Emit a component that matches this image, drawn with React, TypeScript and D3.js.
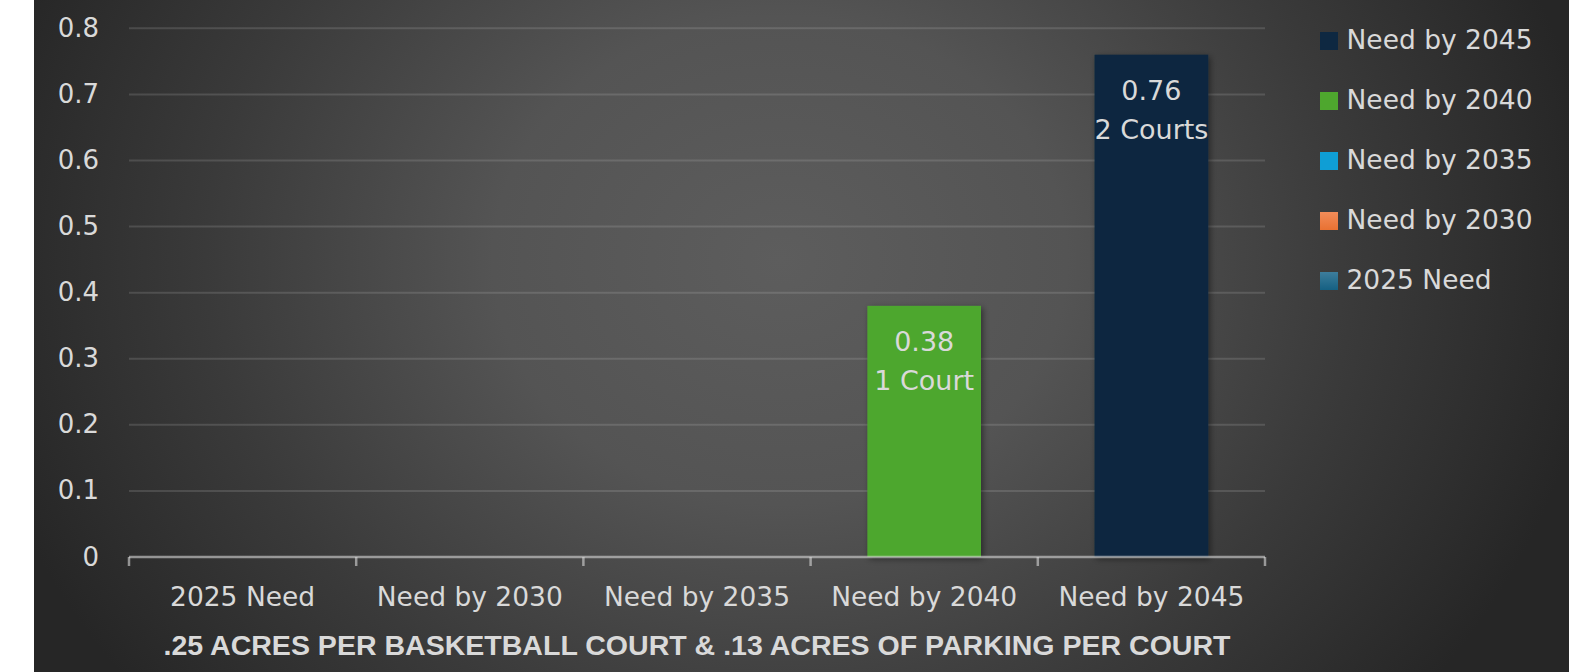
import React from "react";
import * as d3 from "d3";

const categories = ["2025 Need", "Need by 2030", "Need by 2035", "Need by 2040", "Need by 2045"];
const values = [0, 0, 0, 0.38, 0.76];
const valueLabels = ["", "", "", "0.38", "0.76"];
const courtLabels = ["", "", "", "1 Court", "2 Courts"];
const seriesColors = ["#156082", "#e97132", "#0f9ed5", "#4ea72e", "#0e2841"];
const seriesColorsLight = ["#3d7d9c", "#f28c59", "#0f9ed5", "#4ea72e", "#0e2841"];
const legendOrder = [4, 3, 2, 1, 0];
const yTicks = [0, 0.1, 0.2, 0.3, 0.4, 0.5, 0.6, 0.7, 0.8];
const title = ".25 ACRES PER BASKETBALL COURT & .13 ACRES OF PARKING PER COURT";

const W = 1579;
const H = 672;
const FONT = "'DejaVu Sans', sans-serif";
const TXT = "#d9d9d9";

export default function App() {
  const plotL = 129;
  const plotR = 1265;
  const y = d3.scaleLinear().domain([0, 0.8]).range([557, 28.3]);
  const x = d3.scaleBand().domain(categories).range([plotL, plotR]).paddingInner(0).paddingOuter(0);
  const bw = x.bandwidth() * 0.5;

  return (
    <svg width={W} height={H} style={{ position: "absolute", left: 0, top: 0 }}>
      <defs>
        <radialGradient id="bg" gradientUnits="userSpaceOnUse" cx={780} cy={260} r={820}
          gradientTransform="translate(780 260) scale(1 0.85) translate(-780 -260)">
          <stop offset="0" stopColor="#5d5d5d" />
          <stop offset="0.35" stopColor="#545454" />
          <stop offset="0.7" stopColor="#3a3a3a" />
          <stop offset="1" stopColor="#262626" />
        </radialGradient>
        {seriesColors.map((c, i) => (
          <linearGradient key={i} id={`sw${i}`} x1="0" y1="0" x2="0" y2="1">
            <stop offset="0" stopColor={seriesColorsLight[i]} />
            <stop offset="1" stopColor={c} />
          </linearGradient>
        ))}
        <filter id="shadow" x="-20%" y="-20%" width="140%" height="140%">
          <feDropShadow dx="2" dy="2" stdDeviation="3" floodColor="#000" floodOpacity="0.45" />
        </filter>
      </defs>
      <rect x={0} y={0} width={W} height={H} fill="#ffffff" />
      <rect x={34} y={0} width={1569 - 34} height={H} fill="url(#bg)" />

      {yTicks.filter((t) => t > 0).map((t) => (
        <line key={t} x1={plotL} x2={plotR} y1={y(t)} y2={y(t)} stroke="rgba(217,217,217,0.16)" strokeWidth={2} />
      ))}
      {yTicks.map((t) => (
        <text key={t} x={99} y={y(t) + 8.5} textAnchor="end" fontFamily={FONT} fontSize={26} fill={TXT}>
          {String(t)}
        </text>
      ))}

      {categories.map((c, i) => {
        const v = values[i];
        if (v <= 0) return null;
        const bx = (x(c) as number) + (x.bandwidth() - bw) / 2;
        const top = y(v);
        const cx = (x(c) as number) + x.bandwidth() / 2;
        return (
          <g key={c}>
            <rect x={bx} y={top} width={bw} height={y(0) - top} fill={seriesColors[i]} filter="url(#shadow)" />
            <text x={cx} y={top + 45.5} textAnchor="middle" fontFamily={FONT} fontSize={27} fill={TXT}>
              {valueLabels[i]}
            </text>
            <text x={cx} y={top + 84} textAnchor="middle" fontFamily={FONT} fontSize={27} fill={TXT}>
              {courtLabels[i]}
            </text>
          </g>
        );
      })}

      <line x1={plotL} x2={plotR} y1={y(0)} y2={y(0)} stroke="rgba(217,217,217,0.6)" strokeWidth={2.5} />
      {d3.range(categories.length + 1).map((i) => {
        const tx = plotL + i * x.bandwidth();
        return <line key={i} x1={tx} x2={tx} y1={y(0)} y2={y(0) + 9} stroke="rgba(217,217,217,0.6)" strokeWidth={2.5} />;
      })}
      {categories.map((c) => (
        <text key={c} x={(x(c) as number) + x.bandwidth() / 2} y={606} textAnchor="middle" fontFamily={FONT} fontSize={26.5} fill={TXT}>
          {c}
        </text>
      ))}

      <text x={(plotL + plotR) / 2} y={655} textAnchor="middle" fontFamily="'Liberation Sans', Arial, sans-serif"
        fontWeight="bold" fontSize={27.5} fill={TXT} textLength={1067} lengthAdjust="spacingAndGlyphs">
        {title}
      </text>

      {legendOrder.map((si, k) => {
        const ly = 32 + k * 60;
        return (
          <g key={si}>
            <rect x={1320} y={ly} width={18} height={18} fill={`url(#sw${si})`} />
            <text x={1346.5} y={ly + 17} fontFamily={FONT} fontSize={26.5} fill={TXT}>
              {categories[si]}
            </text>
          </g>
        );
      })}
    </svg>
  );
}
